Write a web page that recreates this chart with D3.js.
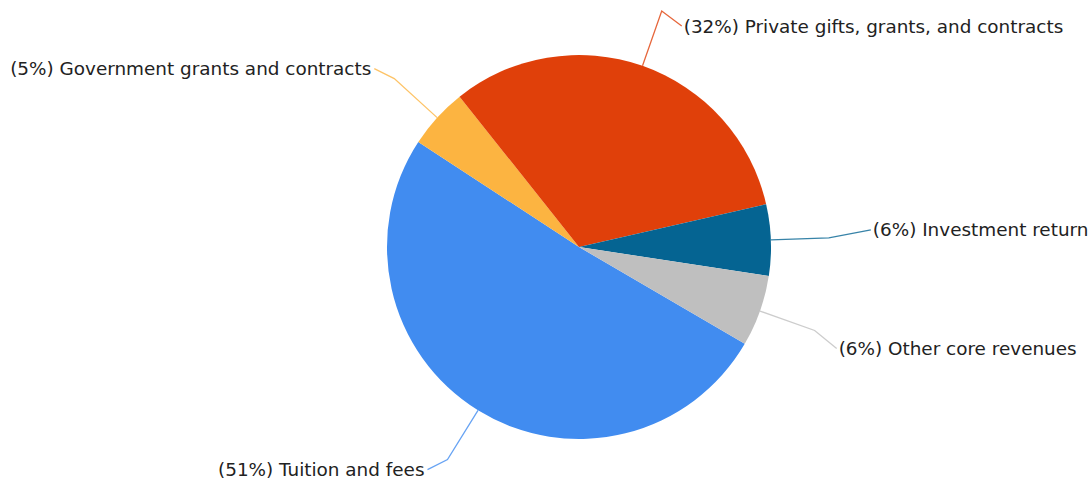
<!DOCTYPE html>
<html>
<head>
<meta charset="utf-8">
<script src="https://cdn.jsdelivr.net/npm/d3@7"></script>
<style>
  html, body { margin: 0; padding: 0; background: #fff; }
  svg text { font-family: "DejaVu Sans", sans-serif; font-size: 18.4px; fill: #222; }
</style>
</head>
<body>
<div id="grafico"></div>
<script>
document.addEventListener('DOMContentLoaded', () => {
    const width = 1090;
    const height = 483;

    // datos (en %)
    const categories = [
        'Tuition and fees',
        'Government grants and contracts',
        'Private gifts, grants, and contracts',
        'Investment return',
        'Other core revenues'
    ];
    const values = [50.8, 5.1, 32.1, 6.0, 6.0];
    const colors = ['#418CF0', '#FCB441', '#E0400A', '#056492', '#BFBFBF'];

    // desplazamiento de cada etiqueta desde el codo de la linea
    const labelNudge = [[-20, 10], [-20, -10], [20, 15], [42, -8], [22, 18]];

    const cx = 579, cy = 247, radius = 192, elbowRadius = 250;
    const startAngle = 120.3 * Math.PI / 180;

    const svg = d3.select('#grafico')
        .append('svg')
        .attr('width', width)
        .attr('height', height);

    const g = svg.append('g')
        .attr('transform', `translate(${cx}, ${cy})`);

    const pie = d3.pie()
        .sort(null)
        .startAngle(startAngle)
        .endAngle(startAngle + 2 * Math.PI);

    const arcs = pie(values);

    const arc = d3.arc()
        .innerRadius(0)
        .outerRadius(radius);

    const total = d3.sum(values);

    // lineas de etiqueta
    arcs.forEach((d, i) => {
        const mid = (d.startAngle + d.endAngle) / 2;
        const p0 = [radius * Math.sin(mid), -radius * Math.cos(mid)];
        const p1 = [elbowRadius * Math.sin(mid), -elbowRadius * Math.cos(mid)];
        const p2 = [p1[0] + labelNudge[i][0], p1[1] + labelNudge[i][1]];
        const right = Math.sin(mid) > 0;

        g.append('polyline')
            .attr('points', [p0, p1, p2].map(p => p.join(',')).join(' '))
            .attr('fill', 'none')
            .attr('stroke', colors[i])
            .attr('stroke-opacity', 0.8)
            .attr('stroke-width', 1.3);

        g.append('text')
            .attr('x', p2[0] + (right ? 2 : -3))
            .attr('y', p2[1])
            .attr('dy', '0.35em')
            .attr('text-anchor', right ? 'start' : 'end')
            .text(`(${Math.round(values[i] / total * 100)}%) ${categories[i]}`);
    });

    g.selectAll('path.slice')
        .data(arcs)
        .enter()
        .append('path')
        .attr('class', 'slice')
        .attr('d', arc)
        .attr('fill', (d, i) => colors[i]);
});
</script>
</body>
</html>
